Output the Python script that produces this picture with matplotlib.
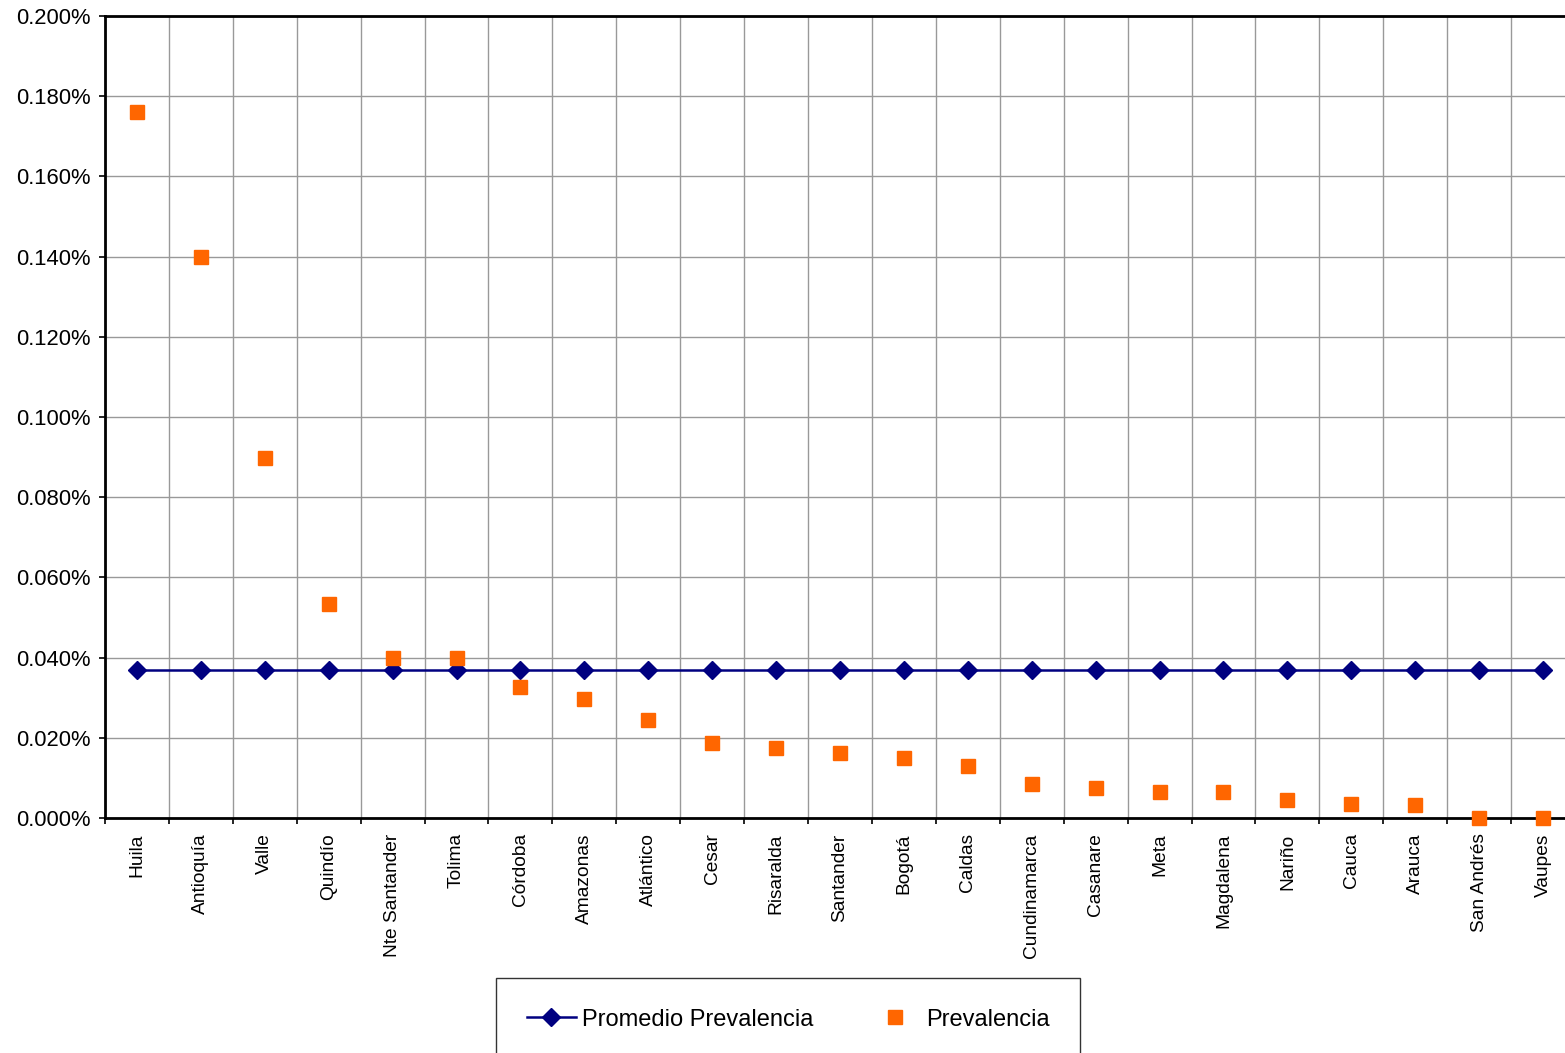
import matplotlib.pyplot as plt
import matplotlib
from matplotlib.ticker import FuncFormatter, MultipleLocator

matplotlib.rcParams['font.family'] = ['Liberation Sans', 'DejaVu Sans']

# datos (en %)
departamentos = ['Huila', 'Antioquía', 'Valle', 'Quindío', 'Nte Santander', 'Tolima',
                 'Córdoba', 'Amazonas', 'Atlántico', 'Cesar', 'Risaralda', 'Santander',
                 'Bogotá', 'Caldas', 'Cundinamarca', 'Casanare', 'Meta', 'Magdalena',
                 'Nariño', 'Cauca', 'Arauca', 'San Andrés', 'Vaupes']
prevalencia = [0.176, 0.140, 0.0898, 0.0534, 0.0400, 0.0400, 0.0327, 0.0297, 0.0245,
               0.0188, 0.0175, 0.0162, 0.0150, 0.0130, 0.0085, 0.0075, 0.0066, 0.0065,
               0.0045, 0.0036, 0.0032, 0.0, 0.0]
promedio = [0.0369] * len(departamentos)

fig = plt.figure(figsize=(15.65, 10.53), dpi=100)
W, H = 1565, 1053
ax = fig.add_axes([105 / W, 1 - 818 / H, 1470 / W, 802 / H])

x = list(range(len(departamentos)))
ax.plot(x, promedio, color='#000080', linewidth=1.8, marker='D', markersize=9,
        label='Promedio Prevalencia', zorder=3, clip_on=False)
ax.plot(x, prevalencia, linestyle='none', marker='s', markersize=10, color='#FF6600',
        label='Prevalencia', zorder=4, clip_on=False)

ax.set_xlim(-0.5, len(departamentos) - 0.5)
ax.set_ylim(0, 0.2)
ax.yaxis.set_major_locator(MultipleLocator(0.02))
ax.yaxis.set_major_formatter(FuncFormatter(lambda v, p: f'{v:.3f}%'))

ax.set_xticks(x)
ax.set_xticklabels(departamentos, rotation=90, fontsize=13.8)
ax.set_xticks([i - 0.5 for i in range(len(departamentos) + 1)], minor=True)
ax.tick_params(axis='x', which='major', length=0, pad=11)
ax.tick_params(axis='x', which='minor', length=4.5, width=1.2, direction='out')
ax.tick_params(axis='y', labelsize=15.8, length=4.5, width=1.2, pad=6)

ax.grid(True, axis='y', which='major', color='#999999', linewidth=1)
ax.grid(True, axis='x', which='minor', color='#999999', linewidth=1)
ax.set_axisbelow(True)
for s in ax.spines.values():
    s.set_linewidth(2)
    s.set_color('black')

leg = fig.legend(loc='upper center', bbox_to_anchor=(788 / W, 1 - 978 / H), ncol=2,
                 fontsize=17, frameon=True, fancybox=False, edgecolor='black',
                 borderpad=1.3, borderaxespad=0, columnspacing=2.4, handlelength=2.1,
                 handletextpad=0.25)
leg.get_frame().set_linewidth(1)

fig.savefig('out.png', dpi=100)
